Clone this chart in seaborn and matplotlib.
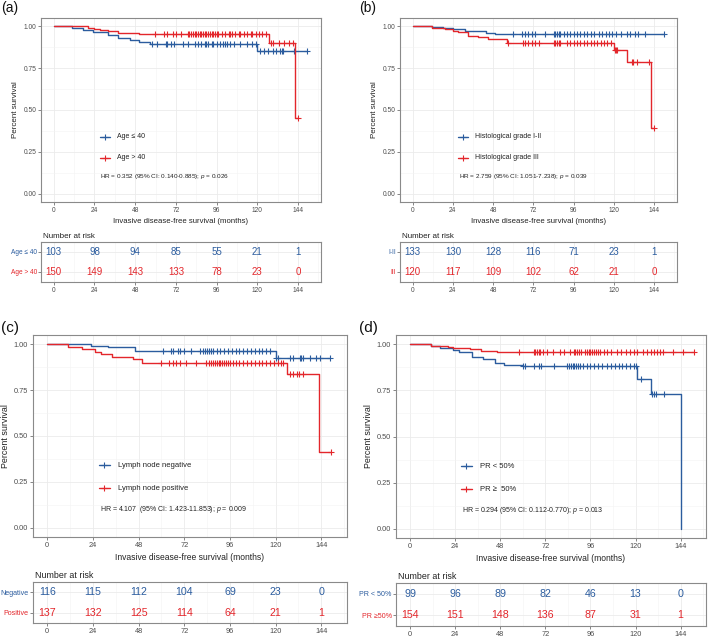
import numpy as np
import pandas as pd
import matplotlib
matplotlib.use("Agg")
import matplotlib.pyplot as plt
import seaborn as sns
from matplotlib.ticker import MultipleLocator

sns.set_theme(style="whitegrid")
plt.rcParams["font.family"] = ["Liberation Sans", "DejaVu Sans"]
plt.rcParams["mathtext.fontset"] = "custom"
plt.rcParams["mathtext.it"] = "Liberation Sans:italic"
plt.rcParams["mathtext.rm"] = "Liberation Sans"

BLUE = "#2B5C9E"
RED = "#E3262B"

risk_months = [0, 24, 48, 72, 96, 120, 144]

# ---- (a) age ----
a_blue_t = [0, 11, 17, 23, 32, 38, 45, 50, 57, 120]
a_blue_s = [1.0, 0.99, 0.98, 0.968, 0.95, 0.932, 0.92, 0.908, 0.893, 0.85]
a_blue_cens = [58, 61, 66, 67, 69, 71, 76, 79, 83, 85, 87, 89, 90, 91, 93, 94, 96, 98, 100,
               101, 102, 104, 106, 110, 114, 117, 119, 121.5, 124, 126, 129, 131, 133.5,
               134.5, 135, 141.5, 149]
a_red_t = [0, 20, 24, 27, 32, 38, 50, 127, 142]
a_red_s = [1.0, 0.993, 0.986, 0.979, 0.97, 0.961, 0.953, 0.90, 0.45]
a_red_cens = [59.5, 65, 67, 70, 72, 75, 79, 80, 81, 82, 83, 84, 85, 86, 87, 88, 89, 90, 91,
              92, 93, 94, 95, 96, 97, 99, 101, 103, 104, 105, 107, 109, 110, 112, 114, 116,
              117, 119, 121, 123, 125, 128, 129.5, 132.5, 135.5, 138.5, 141, 144]
a_risk_blue = [103, 98, 94, 85, 55, 21, 1]
a_risk_red = [150, 149, 143, 133, 78, 23, 0]
a_groups = ["Age ≤ 40", "Age > 40"]
a_rows = ["Age ≤ 40", "Age > 40"]
a_hr = "HR = 0.352 (95% CI: 0.140-0.885); $p$ = 0.026"

# ---- (b) histological grade ----
b_blue_t = [0, 11.5, 18, 24, 31, 36, 44, 49]
b_blue_s = [1.0, 0.995, 0.99, 0.982, 0.975, 0.97, 0.963, 0.955]
b_blue_cens = [60, 65, 67, 69, 71, 73, 79, 84, 85, 86, 87, 88, 90, 92, 94, 96, 98, 100, 102,
               104, 106, 108, 111, 113, 115, 117, 119, 121, 124, 127.5, 129.5, 132.5, 134,
               138.5, 149.5]
b_red_t = [0, 11.5, 19.5, 24, 27, 33, 39, 45, 56, 120, 128, 142]
b_red_s = [1.0, 0.99, 0.983, 0.975, 0.965, 0.945, 0.935, 0.925, 0.902, 0.86, 0.785, 0.39]
b_red_cens = [57, 66, 67, 69, 71, 73, 75, 84, 85, 86, 87, 88, 92, 94, 96, 98, 100, 102, 104,
              106, 108, 110, 112, 114, 116, 118, 120.4, 121, 121.7, 130.7, 131.5, 133.7,
              140.6, 143.6]
b_risk_blue = [133, 130, 128, 116, 71, 23, 1]
b_risk_red = [120, 117, 109, 102, 62, 21, 0]
b_groups = ["Histological grade I-II", "Histological grade III"]
b_rows = ["I-II", "III"]
b_hr = "HR = 2.759 (95% CI: 1.051-7.238); $p$ = 0.039"

# ---- (c) lymph node ----
c_blue_t = [0, 23, 32, 46, 120]
c_blue_s = [1.0, 0.99, 0.982, 0.965, 0.923]
c_blue_cens = [61, 65, 66, 68.7, 70, 72, 75.7, 80, 82, 83, 84, 85, 86, 87, 89, 91, 93, 95,
               97, 99, 101, 103, 105, 107, 109, 111, 113, 115, 117, 120.4, 121, 127.4, 129,
               132.6, 133.5, 134.5, 138, 141, 143.5, 148.4]
c_red_t = [0, 11, 18, 25, 28, 34, 45, 50, 126, 143]
c_red_s = [1.0, 0.985, 0.975, 0.96, 0.945, 0.93, 0.92, 0.90, 0.835, 0.415]
c_red_cens = [60, 64, 66, 67.5, 69.5, 73, 78, 83.5, 85, 86, 87, 88, 89, 90, 91, 92, 93, 94,
              95, 96, 97.5, 99, 101, 103, 105, 107, 109, 111, 113, 115, 117, 119, 121, 123,
              124, 127.4, 129, 131, 132.5, 134.4, 149.3]
c_risk_blue = [116, 115, 112, 104, 69, 23, 0]
c_risk_red = [137, 132, 125, 114, 64, 21, 1]
c_groups = ["Lymph node negative", "Lymph node positive"]
c_rows = ["Negative", "Positive"]
c_hr = "HR = 4.107  (95% CI: 1.423-11.853); $p$ = 0.009"

# ---- (d) PR ----
d_blue_t = [0, 11, 16, 23, 26, 33, 39, 45, 50, 60, 121, 128, 144]
d_blue_s = [1.0, 0.99, 0.98, 0.97, 0.96, 0.93, 0.92, 0.90, 0.89, 0.88, 0.81, 0.73, 0.0]
d_blue_cens = [60, 61, 65.8, 68.5, 69.5, 76.4, 83.6, 84.5, 85.5, 86.5, 87.5, 88.5, 89.5,
               90.7, 92, 94, 96, 98, 100, 102, 105, 107, 109, 111, 113, 115, 117, 119, 120,
               122.7, 129, 130, 131, 135]
d_red_t = [0, 11, 20, 23, 32, 38, 46]
d_red_s = [1.0, 0.993, 0.986, 0.98, 0.975, 0.965, 0.96]
d_red_cens = [57.8, 65.8, 66.5, 67.5, 68.5, 69.3, 71, 73, 76, 80, 82, 85, 87, 88, 89, 90, 91,
              93, 94, 95, 96, 97, 98, 99, 100, 101, 103, 105, 107, 110, 112, 115, 117, 119,
              121, 124, 126, 128, 130, 131.5, 133, 134.5, 140, 145, 151]
d_risk_blue = [99, 96, 89, 82, 46, 13, 0]
d_risk_red = [154, 151, 148, 136, 87, 31, 1]
d_groups = ["PR < 50%", "PR ≥  50%"]
d_rows = ["PR < 50%", "PR ≥50%"]
d_hr = "HR = 0.294 (95% CI: 0.112-0.770); $p$ = 0.013"

W, H = 709, 638
XLIM = (-7.5, 157.5)


def rect(l, r, t, b):
    return [l / W, 1 - b / H, (r - l) / W, (b - t) / H]


def style_axes(ax, k):
    ax.set_facecolor("white")
    ax.xaxis.set_major_locator(MultipleLocator(24))
    ax.xaxis.set_minor_locator(MultipleLocator(12))
    ax.grid(which="major", color="#EBEBEB", lw=0.6)
    ax.grid(which="minor", color="#F3F3F3", lw=0.4)
    for sp in ax.spines.values():
        sp.set_color("#8A8A8A")
        sp.set_linewidth(0.8)
    ax.tick_params(which="major", length=2, width=0.5, color="#555555",
                   labelsize=4.8 * k, labelcolor="#4D4D4D", pad=1.5,
                   bottom=True, left=True)
    ax.tick_params(which="minor", length=0)


def km_panel(fig, tag, main_box, table_box, curves, groups, rows, hr, risk_blue, risk_red, k=1.0):
    ax = fig.add_axes(rect(*main_box))
    style_axes(ax, k)
    for t, s, cens, col in curves:
        end = max(max(cens), t[-1])
        df = pd.DataFrame({"month": t + [end], "surv": s + [s[-1]]})
        sns.lineplot(data=df, x="month", y="surv", drawstyle="steps-post", color=col,
                     lw=1.0, estimator=None, ax=ax)
        idx = np.searchsorted(t, cens, side="right") - 1
        ax.plot(cens, np.array(s)[idx], ls="none", marker="+", ms=4.6, mew=0.8, color=col)
    ax.set_xlim(*XLIM)
    ax.set_ylim(-0.05, 1.05)
    ax.yaxis.set_major_locator(MultipleLocator(0.25))
    ax.yaxis.set_minor_locator(MultipleLocator(0.125))
    ax.yaxis.set_major_formatter(lambda v, p: f"{v:.2f}")
    ax.set_ylabel("Percent survival", fontsize=5.8 * k, color="#222222", labelpad=3)
    ax.set_xlabel("Invasive disease-free survival (months)", fontsize=5.6 * k,
                  color="#222222", labelpad=3)

    # legend keys inside the panel
    for (yk, lab, col) in [(0.3545, groups[0], BLUE), (0.241, groups[1], RED)]:
        ax.plot([0.209, 0.245], [yk, yk], color=col, lw=1.0, transform=ax.transAxes)
        ax.plot([0.227], [yk], marker="+", ms=4.6, mew=0.8, color=col, transform=ax.transAxes)
        ax.text(0.270, yk, lab, fontsize=5.0 * k, color="#222222", va="center",
                transform=ax.transAxes)
    ax.text(0.212, 0.137, hr, fontsize=4.6 * k, color="#222222", va="center",
            transform=ax.transAxes)

    # number at risk table
    tb = fig.add_axes(rect(*table_box))
    style_axes(tb, k)
    tb.set_xlim(*XLIM)
    tb.set_ylim(-0.5, 1.5)
    tb.set_yticks([0, 1])
    tb.set_yticklabels([rows[1], rows[0]], fontsize=4.7 * k)
    tb.tick_params(axis="y", pad=1.0)
    tb.get_yticklabels()[0].set_color(RED)
    tb.get_yticklabels()[1].set_color(BLUE)
    for m, nb, nr in zip(risk_months, risk_blue, risk_red):
        tb.text(m, 1, str(nb), color=BLUE, fontsize=7.0 * k, ha="center", va="center")
        tb.text(m, 0, str(nr), color=RED, fontsize=7.0 * k, ha="center", va="center")
    tb.set_xlabel("")
    tb.set_ylabel("")
    tb.text(0.006, 1.04, "Number at risk", fontsize=5.8 * k, color="#222222",
            transform=tb.transAxes, va="bottom", ha="left")

    fig.text(tag[1] / W, 1 - tag[2] / H, tag[0], fontsize=10 * k, color="#111111",
             va="center", ha="left")


fig = plt.figure(figsize=(W / 100, H / 100), dpi=100)
fig.patch.set_facecolor("white")

km_panel(fig, ("(a)", 1, 8), (41, 321, 18, 202), (41, 321, 242, 282),
         [(a_blue_t, a_blue_s, a_blue_cens, BLUE), (a_red_t, a_red_s, a_red_cens, RED)],
         a_groups, a_rows, a_hr, a_risk_blue, a_risk_red)
km_panel(fig, ("(b)", 359, 8), (400, 677, 18, 202), (400, 677, 242, 282),
         [(b_blue_t, b_blue_s, b_blue_cens, BLUE), (b_red_t, b_red_s, b_red_cens, RED)],
         b_groups, b_rows, b_hr, b_risk_blue, b_risk_red)
km_panel(fig, ("(c)", 1, 328), (33, 347, 335, 537), (33, 347, 582, 623),
         [(c_blue_t, c_blue_s, c_blue_cens, BLUE), (c_red_t, c_red_s, c_red_cens, RED)],
         c_groups, c_rows, c_hr, c_risk_blue, c_risk_red, k=1.1)
km_panel(fig, ("(d)", 359, 328), (396, 706, 335, 538), (396, 706, 583, 626),
         [(d_blue_t, d_blue_s, d_blue_cens, BLUE), (d_red_t, d_red_s, d_red_cens, RED)],
         d_groups, d_rows, d_hr, d_risk_blue, d_risk_red, k=1.1)

fig.savefig("out.png", dpi=100, facecolor="white")
